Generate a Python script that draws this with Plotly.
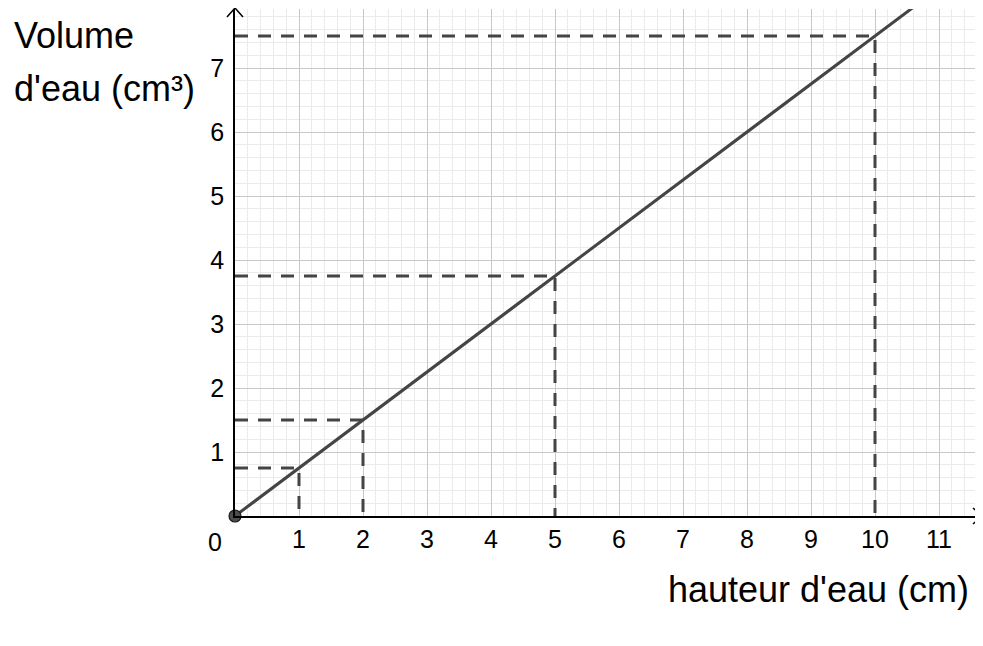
import plotly.graph_objects as go

# points (hauteur en cm, volume en cm3)
hauteur = [1, 2, 5, 10]
volume = [0.75, 1.5, 3.75, 7.5]

# droite de proportionnalité
droite_x = [0, 1, 2, 5, 10, 11]
droite_y = [0, 0.75, 1.5, 3.75, 7.5, 8.25]

x_ticks = list(range(1, 12))
y_ticks = list(range(1, 8))

# la page html a une marge de 8px autour de la figure
OFF = 8
W, H = 983 - OFF, 646 - OFF
L, R, T, B = 235 - OFF, 2, 9 - OFF, 130
UNIT = 64  # pixels par unité, même échelle sur les deux axes
x_max = (W - L - R) / UNIT
y_max = (H - T - B) / UNIT

FONT = "Arial, Liberation Sans, sans-serif"
GRIS = "#444444"


def px_x(px):
    return (px - OFF - L) / (W - L - R)


def px_y(py):
    return (H - B - (py - OFF)) / (H - T - B)


# pointillés de lecture
dash_x, dash_y = [], []
for h, v in zip(hauteur, volume):
    dash_x += [0, h, h, None]
    dash_y += [v, v, 0, None]

fig = go.Figure()

fig.add_trace(go.Scatter(
    x=dash_x, y=dash_y, mode="lines",
    line=dict(color=GRIS, width=3, dash="13px,10px"),
    hoverinfo="skip", showlegend=False
))

fig.add_trace(go.Scatter(
    x=droite_x, y=droite_y, mode="lines",
    line=dict(color=GRIS, width=3),
    showlegend=False
))

fig.add_trace(go.Scatter(
    x=[0], y=[0], mode="markers",
    marker=dict(color="#4d4d4d", size=12, line=dict(color="#1a1a1a", width=1.2)),
    cliponaxis=False, showlegend=False
))

axis_common = dict(
    showgrid=True, gridcolor="#c8c8c8", gridwidth=1.2,
    minor=dict(dtick=0.2, tick0=0, showgrid=True, gridcolor="#ebebeb", gridwidth=1),
    showline=True, linecolor="#000", linewidth=1.6, zeroline=False,
    ticks="outside", tickcolor="rgba(0,0,0,0)",
    tickfont=dict(family=FONT, size=25, color="#000"),
    fixedrange=True
)
fig.update_xaxes(range=[0, x_max], tickvals=x_ticks,
                 ticktext=[str(t) for t in x_ticks], ticklen=0, **axis_common)
fig.update_yaxes(range=[0, y_max], tickvals=y_ticks,
                 ticktext=[str(t) for t in y_ticks], ticklen=4, **axis_common)

# flèches des axes
fig.add_shape(type="path", xref="paper", yref="paper", xanchor=1, yanchor=0,
              xsizemode="pixel", ysizemode="pixel",
              path="M -8,8 L 1,0 L -8,-8", line=dict(color="#000", width=1.5),
              layer="above")
fig.add_shape(type="path", xref="paper", yref="paper", xanchor=0, yanchor=1,
              xsizemode="pixel", ysizemode="pixel",
              path="M -8,-8 L 0,1 L 8,-8", line=dict(color="#000", width=1.5),
              layer="above")

annots = [
    dict(text="0", x=px_x(215), y=px_y(542), size=25, xanchor="center"),
    dict(text="Volume", x=px_x(12), y=px_y(35), size=36, xanchor="left"),
    dict(text="d'eau (cm³)", x=px_x(12), y=px_y(88), size=36, xanchor="left"),
    dict(text="hauteur d'eau (cm)", x=px_x(971), y=px_y(589), size=36, xanchor="right"),
]
for a in annots:
    fig.add_annotation(
        text=a["text"], x=a["x"], y=a["y"], xref="paper", yref="paper",
        xanchor=a["xanchor"], yanchor="middle", showarrow=False,
        font=dict(family=FONT, size=a["size"], color="#000")
    )

fig.update_layout(
    width=W, height=H,
    margin=dict(l=L, r=R, t=T, b=B),
    plot_bgcolor="white", paper_bgcolor="white",
    showlegend=False
)

fig.write_html("out.html")
